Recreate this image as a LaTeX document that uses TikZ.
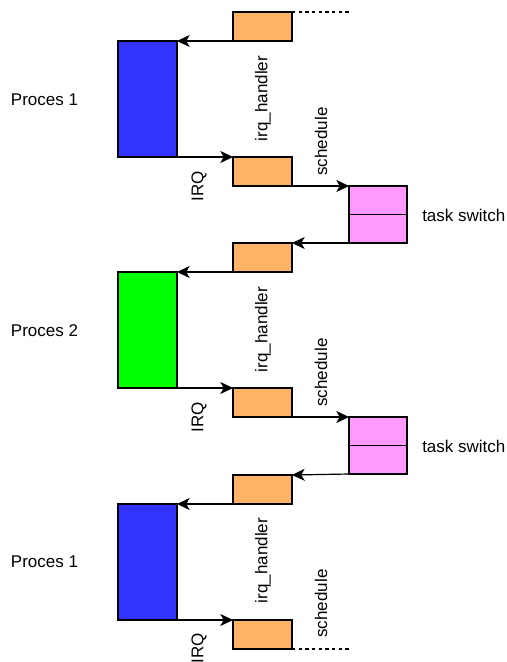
\documentclass[tikz,border=0pt]{standalone}
\usepackage{fontspec}
\setmainfont{Liberation Sans}
\usetikzlibrary{arrows.meta}
\definecolor{procblue}{RGB}{51,51,255}
\definecolor{procgreen}{RGB}{0,255,0}
\definecolor{irqorange}{RGB}{255,179,102}
\definecolor{tspink}{RGB}{255,153,255}
\begin{document}
\begin{tikzpicture}[x=0.75pt,y=-0.75pt,
  every node/.style={font=\fontsize{12.75}{15}\selectfont},
  boxbase/.style={draw=black,line width=0.9pt,inner sep=0pt,outer sep=0pt,anchor=north west},
  orangebox/.style={boxbase,fill=irqorange,minimum width=44.25pt,minimum height=21.75pt},
  procbox/.style={boxbase,minimum width=44.25pt,minimum height=87pt},
  pinkbox/.style={boxbase,fill=tspink,minimum width=43.5pt,minimum height=42.75pt},
  arr/.style={line width=0.9pt,-{Stealth[length=9.5pt,width=9pt,inset=2.5pt]}},
  dashline/.style={line width=0.9pt,dash pattern=on 2.5pt off 2.5pt},
  vlabel/.style={rotate=90,inner sep=0pt},
  hlabel/.style={inner sep=0pt}]
\useasboundingbox (0,0) rectangle (507,662);

% boxes
\node[orangebox] (o1) at (233,12) {};
\node[procbox,fill=procblue] (p1) at (118,41) {};
\node[orangebox] (o2) at (233,157) {};
\node[pinkbox] (s1) at (349,186) {};
\node[orangebox] (o3) at (233,243) {};
\node[procbox,fill=procgreen] (p2) at (118,272) {};
\node[orangebox] (o4) at (233,388) {};
\node[pinkbox] (s2) at (349,417) {};
\node[orangebox] (o5) at (233,475) {};
\node[procbox,fill=procblue] (p3) at (118,504) {};
\node[orangebox] (o6) at (233,620) {};

% dividers in task switch boxes
\draw[line width=0.9pt] (s1.west) -- (s1.east);
\draw[line width=0.9pt] (s2.west) -- (s2.east);

% dashed continuations
\coordinate (d1) at (350,12);
\coordinate (d2) at (350,649);
\draw[dashline] (o1.north east) -- (d1);
\draw[dashline] (o6.south east) -- (d2);

% connectors
\draw[arr] (o1.south west) -- (p1.north east);
\draw[arr] (p1.south east) -- (o2.north west);
\draw[arr] (o2.south east) -- (s1.north west);
\draw[arr] (s1.south west) -- (o3.north east);
\draw[arr] (o3.south west) -- (p2.north east);
\draw[arr] (p2.south east) -- (o4.north west);
\draw[arr] (o4.south east) -- (s2.north west);
\draw[arr] (s2.south west) -- (o5.north east);
\draw[arr] (o5.south west) -- (p3.north east);
\draw[arr] (p3.south east) -- (o6.north west);

% labels
\node[hlabel] (l1) at (44.5,100) {Proces 1};
\node[hlabel] (l2) at (44.5,331) {Proces 2};
\node[hlabel] (l3) at (44.5,562) {Proces 1};
\node[hlabel,anchor=west] (t1) at (422,215) {task switch};
\node[hlabel,anchor=west] (t2) at (422,446) {task switch};

\node[vlabel] (h1) at (263,98.5) {irq\_handler};
\node[vlabel] (h2) at (263,329.5) {irq\_handler};
\node[vlabel] (h3) at (263,560.5) {irq\_handler};
\node[vlabel] (c1) at (321,141.5) {schedule};
\node[vlabel] (c2) at (321,372.5) {schedule};
\node[vlabel] (c3) at (321,603.5) {schedule};
\node[vlabel] (q1) at (199,186) {IRQ};
\node[vlabel] (q2) at (199,417) {IRQ};
\node[vlabel] (q3) at (199,648) {IRQ};
\end{tikzpicture}
\end{document}
